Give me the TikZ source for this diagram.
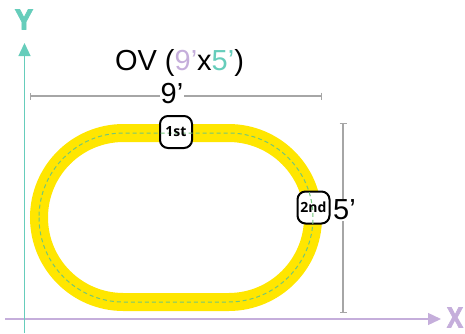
\documentclass[tikz,border=0pt]{standalone}
\usepackage{fontspec}
\setmainfont{Liberation Sans}
\newfontfamily\boxfont{Open Sans}
\newfontfamily\axisfont[BoldFeatures={FakeBold=2.5}]{Open Sans}
\usetikzlibrary{arrows.meta}
\definecolor{trackyellow}{HTML}{FFE600}
\definecolor{trackgreen}{HTML}{72C77A}
\definecolor{axisteal}{HTML}{66CDBB}
\definecolor{axislilac}{HTML}{C5AEDB}
\definecolor{dimgray}{HTML}{A6A6A6}
\tikzset{
  axisline/.style={line width=1.3pt,-{Triangle[length=13pt,width=12pt]}},
  axisname/.style={font=\axisfont\fontsize{28}{28}\selectfont\bfseries,inner sep=0pt},
  dimline/.style={dimgray,line width=1.2pt,{Bar[width=7pt,line width=1pt]}-{Bar[width=7pt,line width=1pt]}},
  dimtext/.style={font=\fontsize{29}{29}\selectfont,fill=white,inner sep=1pt},
  markbox/.style={draw=black,fill=white,line width=2pt,rounded corners=8pt,minimum width=32pt,minimum height=32pt,inner sep=0pt},
  marktext/.style={font=\boxfont\fontsize{14}{14}\selectfont\bfseries,inner sep=0pt},
}
\begin{document}
\begin{tikzpicture}[x=1pt, y=-1pt]
\useasboundingbox (0,0) rectangle (465,333);
% axes
\coordinate (xstart) at (5,319);
\coordinate (xend) at (441,319);
\coordinate (ystart) at (24.5,333);
\coordinate (yend) at (24.5,43);
\draw[axisline,axislilac] (xstart) -- (xend);
\draw[axisline,axisteal] (ystart) -- (yend);
\node[axisname,text=axislilac] (xname) at (455,317.5) {\scalebox{.85}[1]{X}};
\node[axisname,text=axisteal] (yname) at (24,19.5) {Y};
% track
\draw[trackyellow,line width=18pt,rounded corners=84.5pt] (39,133) rectangle (313,302);
\node[markbox] (first) at (176,132) {};
\node[markbox] (second) at (313.5,207.5) {};
\draw[trackgreen,line width=1pt,dash pattern=on 4pt off 3pt,rounded corners=84.5pt] (39,133) rectangle (313,302);
\node[marktext] (firsttext) at (first) {1st};
\node[marktext] (secondtext) at (second) {2nd};
% dimensions
\node[font=\fontsize{29}{29}\selectfont,inner sep=0pt] (title) at (179.5,63) {OV ({\color{axislilac}9’}x{\color{axisteal}5’})};
\coordinate (widthleft) at (30,96);
\coordinate (widthright) at (322,96);
\coordinate (heighttop) at (343,123);
\coordinate (heightbottom) at (343,313);
\draw[dimline] (widthleft) -- (widthright);
\draw[dimline] (heighttop) -- (heightbottom);
\node[dimtext] (widthtext) at (172,94) {9’};
\node[dimtext] (heighttext) at (344.5,210) {5’};
\end{tikzpicture}
\end{document}
